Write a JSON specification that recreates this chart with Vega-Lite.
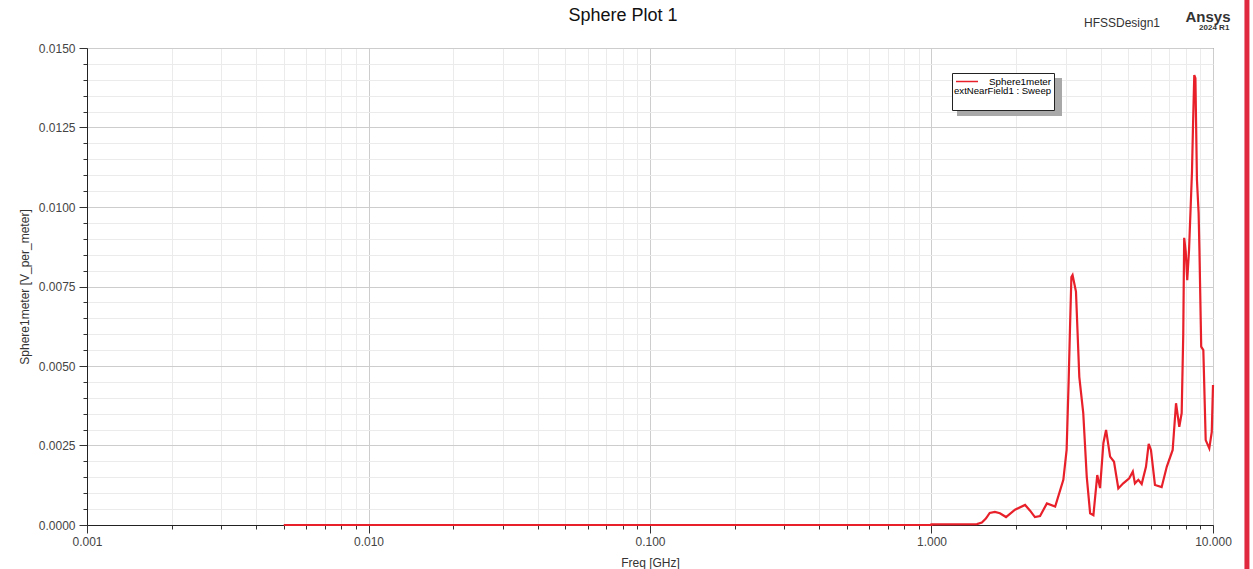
{
  "$schema": "https://vega.github.io/schema/vega-lite/v6.json",
  "width": 1126,
  "height": 477,
  "autosize": {"type": "none"},
  "padding": {"left": 87, "top": 48, "right": 40, "bottom": 44},
  "background": "white",
  "title": {"text": "Sphere Plot 1", "frame": "group", "fontSize": 18, "font": "Liberation Sans", "fontWeight": "normal", "color": "#111", "anchor": "middle", "dx": -27, "offset": -28},
  "config": {
    "view": {"stroke": "#555", "strokeWidth": 1},
    "font": "Liberation Sans"
  },
  "resolve": {"axis": {"x": "independent", "y": "independent"}},
  "layer": [
    {
      "data": {"values": [
        {"f": 0.005, "v": 0}, {"f": 0.05, "v": 0}, {"f": 0.5, "v": 0}, {"f": 1.0, "v": 0},
        {"f": 1.0, "v": 0.00002}, {"f": 1.45, "v": 0.00003}, {"f": 1.51, "v": 0.00008}, {"f": 1.56, "v": 0.0002},
        {"f": 1.61, "v": 0.00038}, {"f": 1.68, "v": 0.00041}, {"f": 1.75, "v": 0.00037}, {"f": 1.84, "v": 0.00025},
        {"f": 1.98, "v": 0.00048}, {"f": 2.15, "v": 0.00063}, {"f": 2.24, "v": 0.00045}, {"f": 2.33, "v": 0.00025},
        {"f": 2.43, "v": 0.00028}, {"f": 2.57, "v": 0.00068}, {"f": 2.75, "v": 0.00058}, {"f": 2.94, "v": 0.00142},
        {"f": 3.02, "v": 0.00236}, {"f": 3.07, "v": 0.0045}, {"f": 3.105, "v": 0.0062}, {"f": 3.14, "v": 0.0078},
        {"f": 3.17, "v": 0.00786}, {"f": 3.26, "v": 0.00734}, {"f": 3.35, "v": 0.00466}, {"f": 3.46, "v": 0.00352},
        {"f": 3.56, "v": 0.00152}, {"f": 3.66, "v": 0.00037}, {"f": 3.76, "v": 0.00031}, {"f": 3.88, "v": 0.00157},
        {"f": 3.97, "v": 0.00116}, {"f": 4.08, "v": 0.00258}, {"f": 4.17, "v": 0.00299}, {"f": 4.31, "v": 0.00215},
        {"f": 4.45, "v": 0.00199}, {"f": 4.61, "v": 0.00115}, {"f": 4.80, "v": 0.00131}, {"f": 5.04, "v": 0.00147},
        {"f": 5.19, "v": 0.00168}, {"f": 5.28, "v": 0.00131}, {"f": 5.43, "v": 0.00142}, {"f": 5.58, "v": 0.00129},
        {"f": 5.78, "v": 0.00183}, {"f": 5.91, "v": 0.00255}, {"f": 6.02, "v": 0.00236}, {"f": 6.22, "v": 0.00126},
        {"f": 6.57, "v": 0.00119}, {"f": 6.85, "v": 0.00183}, {"f": 7.19, "v": 0.00236}, {"f": 7.39, "v": 0.00383},
        {"f": 7.59, "v": 0.00309}, {"f": 7.74, "v": 0.00352}, {"f": 7.84, "v": 0.0060}, {"f": 7.90, "v": 0.00903},
        {"f": 8.0, "v": 0.0086}, {"f": 8.10, "v": 0.0077}, {"f": 8.22, "v": 0.00865}, {"f": 8.33, "v": 0.0100},
        {"f": 8.42, "v": 0.0111}, {"f": 8.49, "v": 0.01252}, {"f": 8.58, "v": 0.01415}, {"f": 8.66, "v": 0.01405},
        {"f": 8.77, "v": 0.01085}, {"f": 8.89, "v": 0.00981}, {"f": 8.95, "v": 0.00865}, {"f": 9.08, "v": 0.00561},
        {"f": 9.24, "v": 0.0055}, {"f": 9.42, "v": 0.00267}, {"f": 9.70, "v": 0.00241}, {"f": 9.90, "v": 0.00293},
        {"f": 10.0, "v": 0.0044}
      ]},
      "mark": {"type": "line", "strokeWidth": 2.2, "interpolate": "linear"},
      "encoding": {
        "x": {
          "field": "f", "type": "quantitative",
          "scale": {"type": "log", "domain": [0.001, 10], "nice": false},
          "axis": {
            "orient": "bottom",
            "title": "Freq [GHz]",
            "titleFont": "Liberation Sans", "titleFontSize": 12, "titleFontWeight": "normal", "titleColor": "#333", "titlePadding": 10,
            "values": [0.001,0.002,0.003,0.004,0.005,0.006,0.007,0.008,0.009,0.01,0.02,0.03,0.04,0.05,0.06,0.07,0.08,0.09,0.1,0.2,0.3,0.4,0.5,0.6,0.7,0.8,0.9,1,2,3,4,5,6,7,8,9,10],
            "labelExpr": "abs(log(datum.value)/LN10 - round(log(datum.value)/LN10)) < 1e-6 ? format(datum.value, '.3f') : ''",
            "labelFont": "Liberation Sans", "labelFontSize": 12, "labelColor": "#444", "labelPadding": 3,
            "labelOverlap": false, "labelFlush": false,
            "domainColor": "#222", "tickColor": "#333",
            "tickSize": {"condition": {"test": "abs(log(datum.value)/LN10 - round(log(datum.value)/LN10)) < 1e-6", "value": 8}, "value": 4},
            "grid": true,
            "gridColor": {"condition": {"test": "abs(log(datum.value)/LN10 - round(log(datum.value)/LN10)) < 1e-6", "value": "#cdcdcd"}, "value": "#ebebeb"}
          }
        },
        "y": {
          "field": "v", "type": "quantitative",
          "scale": {"domain": [0, 0.015], "nice": false},
          "axis": {
            "orient": "left",
            "title": "Sphere1meter [V_per_meter]",
            "titleFont": "Liberation Sans", "titleFontSize": 12, "titleFontWeight": "normal", "titleColor": "#333", "titlePadding": 7,
            "values": [0,0.0005,0.001,0.0015,0.002,0.0025,0.003,0.0035,0.004,0.0045,0.005,0.0055,0.006,0.0065,0.007,0.0075,0.008,0.0085,0.009,0.0095,0.01,0.0105,0.011,0.0115,0.012,0.0125,0.013,0.0135,0.014,0.0145,0.015],
            "labelExpr": "round(datum.value*10000) % 25 == 0 ? format(datum.value, '.4f') : ''",
            "labelFont": "Liberation Sans", "labelFontSize": 12, "labelColor": "#444", "labelPadding": 4,
            "labelOverlap": false, "labelFlush": false,
            "domainColor": "#222", "tickColor": "#333",
            "tickSize": {"condition": {"test": "round(datum.value*10000) % 25 == 0", "value": 8}, "value": 4},
            "grid": true,
            "gridColor": {"condition": {"test": "round(datum.value*10000) % 25 == 0", "value": "#cdcdcd"}, "value": "#ebebeb"}
          }
        },
        "stroke": {
          "datum": "Sphere1meter",
          "scale": {"domain": ["Sphere1meter"], "range": ["#e8202a"]},
          "legend": {
            "title": ["extNearField1 : Sweep", ""],
            "orient": "none", "legendX": 865, "legendY": 25,
            "titleOrient": "bottom", "titleAnchor": "start",
            "fillColor": "white", "strokeColor": "#222", "padding": 2,
            "symbolType": "M-2,0H2", "symbolSize": 121, "symbolStrokeWidth": 1.5, "symbolOffset": 6.5,
            "labelFont": "Liberation Sans", "labelFontSize": 9.8, "labelColor": "#000", "labelOffset": 15.5,
            "titleFont": "Liberation Sans", "titleFontSize": 9.6, "titleFontWeight": "normal", "titleColor": "#000", "titlePadding": 0, "titleLineHeight": 12
          }
        }
      }
    },
    {
      "data": {"values": [{}]},
      "mark": {"type": "rect", "color": "#a8a8a8"},
      "encoding": {
        "x": {"datum": 1.232, "type": "quantitative", "axis": null},
        "x2": {"datum": 2.908},
        "y": {"datum": 0.014057, "type": "quantitative", "axis": null},
        "y2": {"datum": 0.012862}
      }
    },
    {
      "data": {"values": [{}]},
      "mark": {"type": "text", "font": "Liberation Sans", "fontSize": 12, "color": "#333", "align": "center", "baseline": "middle"},
      "encoding": {
        "x": {"datum": 4.75, "type": "quantitative", "axis": null},
        "y": {"datum": 0.01579, "type": "quantitative", "axis": null},
        "text": {"value": "HFSSDesign1"}
      }
    },
    {
      "data": {"values": [{}]},
      "mark": {"type": "text", "font": "Liberation Sans", "fontSize": 15, "fontWeight": "bold", "color": "#333", "align": "center", "baseline": "middle"},
      "encoding": {
        "x": {"datum": 9.6, "type": "quantitative", "axis": null},
        "y": {"datum": 0.01597, "type": "quantitative", "axis": null},
        "text": {"value": "Ansys"}
      }
    },
    {
      "data": {"values": [{}]},
      "mark": {"type": "text", "font": "Liberation Sans", "fontSize": 8, "fontWeight": "bold", "color": "#333", "align": "center", "baseline": "middle"},
      "encoding": {
        "x": {"datum": 10.1, "type": "quantitative", "axis": null},
        "y": {"datum": 0.01563, "type": "quantitative", "axis": null},
        "text": {"value": "2024 R1"}
      }
    },
    {
      "data": {"values": [{}]},
      "mark": {"type": "rule", "color": "#e0283f", "strokeWidth": 5},
      "encoding": {
        "x": {"datum": 13.2, "type": "quantitative", "axis": null},
        "y": {"datum": 0.01651, "type": "quantitative", "axis": null},
        "y2": {"datum": -0.00138}
      }
    }
  ]
}
